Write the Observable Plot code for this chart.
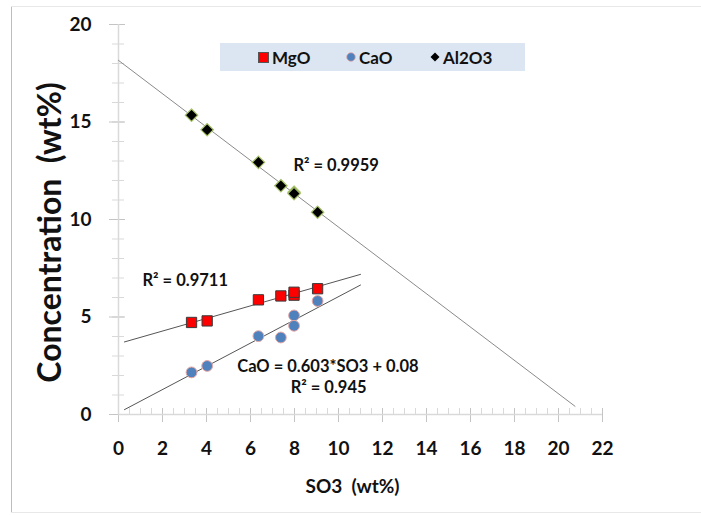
<!DOCTYPE html>
<html><head><meta charset="utf-8">
<script src="https://cdn.jsdelivr.net/npm/d3@7"></script>
<script src="https://cdn.jsdelivr.net/npm/@observablehq/plot@0.6"></script>
<style>
body{margin:0;background:#fff;}
#wrap{position:relative;width:701px;height:515px;overflow:hidden;font-family:Lato,"Open Sans",sans-serif;background:#fff;}
#frameL{position:absolute;left:11px;top:6px;width:0;height:507px;border-left:1px solid #bdbdbd;}
#frameT{position:absolute;left:11px;top:6px;width:690px;height:0;border-top:1px solid #e8e8e8;}
#frameB{position:absolute;left:11px;top:512px;width:690px;height:0;border-top:1px solid #e8e8e8;}
#legend{position:absolute;left:220px;top:43px;width:305px;height:28px;background:#dce6f2;}
.li{position:absolute;top:0;height:28px;display:flex;align-items:center;font-weight:700;font-size:17px;color:#111;}
.li svg{margin-right:3px;}
#chart{position:absolute;left:0;top:0;}
</style></head><body>
<div id="wrap">
  <div id="chart"></div>
  <div id="frameL"></div><div id="frameT"></div><div id="frameB"></div>
  <div id="legend"></div>
</div>
<script>
// ---- data ----
const so3   = [3.32, 4.03, 6.36, 7.38, 7.98, 7.98, 9.05];
const mgo   = [4.72, 4.80, 5.88, 6.08, 6.12, 6.27, 6.45];
const cao   = [2.16, 2.49, 4.02, 3.95, 5.08, 4.55, 5.82];
const al2o3 = [15.35, 14.60, 12.93, 11.73, 11.40, 11.33, 10.37];

const seriesNames = ["MgO", "CaO", "Al2O3"];
const xTicks = [0, 2, 4, 6, 8, 10, 12, 14, 16, 18, 20, 22];
const yTicks = [0, 5, 10, 15, 20];
const xMinorTicks = d3.range(0, 22.01, 0.5);
const yMinorTicks = d3.range(0, 20.01, 1);

// trend-line extents (x range drawn by the spreadsheet trendlines)
const trendRange = {MgO: [0.27, 11.0], CaO: [0.27, 11.0], Al2O3: [0, 20.75]};

const annotations = [
  {x: 7.95, y: 12.77, text: "R² = 0.9959", anchor: "start"},
  {x: 1.09, y: 6.87,  text: "R² = 0.9711", anchor: "start"},
  {x: 9.52, y: 2.46,  text: "CaO = 0.603*SO3 + 0.08", anchor: "middle"},
  {x: 9.55, y: 1.38,  text: "R² = 0.945", anchor: "middle"}
];

// ---- build tables ----
const valuesBy = {MgO: mgo, CaO: cao, Al2O3: al2o3};
const points = seriesNames.flatMap(s => so3.map((x, i) => ({series: s, x, y: valuesBy[s][i]})));

function fit(xs, ys) {
  const mx = d3.mean(xs), my = d3.mean(ys);
  let sxy = 0, sxx = 0;
  xs.forEach((x, i) => { sxy += (x - mx) * (ys[i] - my); sxx += (x - mx) ** 2; });
  const b = sxy / sxx;
  return {b, a: my - b * mx};
}
const trends = seriesNames.flatMap(s => {
  const {a, b} = fit(so3, valuesBy[s]);
  return trendRange[s].map(x => ({series: s, x, y: a + b * x}));
});

const axisGray = "#d9d9d9", tickGray = "#c4c4c4";

const chart = Plot.plot({
  width: 701, height: 515,
  marginLeft: 118, marginRight: 99, marginTop: 24, marginBottom: 101,
  style: {fontFamily: "Lato, 'Open Sans', sans-serif", background: "transparent", overflow: "visible"},
  x: {domain: [0, 22]},
  y: {domain: [0, 20]},
  marks: [
    // x axis ticks
    Plot.axisX(xMinorTicks, {tickSize: 6, dy: -6, tickFormat: () => "", stroke: axisGray, label: null}),
    Plot.axisX(xTicks, {tickSize: 14, dy: -6, tickFormat: () => "", stroke: tickGray, label: null}),
    Plot.axisX(xTicks, {tickSize: 0, tickPadding: 27, fontSize: 19, fontWeight: "bold", color: "#111", label: null}),
    // y axis ticks
    Plot.axisY(yMinorTicks, {tickSize: 12, dx: 6, tickFormat: () => "", stroke: axisGray, label: null}),
    Plot.axisY(yTicks, {tickSize: 16, dx: 7, tickFormat: () => "", stroke: tickGray, label: null}),
    Plot.axisY(yTicks, {tickSize: 0, tickPadding: 27, fontSize: 19, fontWeight: "bold", color: "#111", label: null}),
    Plot.ruleY([0], {stroke: axisGray, strokeWidth: 1.5}),
    Plot.ruleX([0], {stroke: axisGray, strokeWidth: 1.5}),
    // axis titles
    Plot.text(["Concentration  (wt%)"], {frameAnchor: "left", textAnchor: "middle", rotate: -90, dx: -68, dy: 13, fontSize: 32, fontWeight: "bold", fill: "#111"}),
    Plot.text(["SO3  (wt%)"], {frameAnchor: "bottom", textAnchor: "middle", dy: 78, dx: -8, fontSize: 19, fontWeight: "bold", fill: "#111"}),
    // trendlines
    Plot.line(trends, {x: "x", y: "y", z: "series", stroke: d => d.series === "Al2O3" ? "#8a8a8a" : "#555", strokeWidth: 1}),
    // points
    Plot.dot(points.filter(d => d.series === "Al2O3"), {x: "x", y: "y", symbol: "diamond2", r: 5.6, fill: "#000", stroke: "#a9c46a", strokeWidth: 1.2}),
    Plot.dot(points.filter(d => d.series === "MgO"), {x: "x", y: "y", symbol: "square", r: 5.8, fill: "#ff0000", stroke: "#3a3a3a", strokeWidth: 1}),
    Plot.dot(points.filter(d => d.series === "CaO"), {x: "x", y: "y", symbol: "circle", r: 5.4, fill: "#4f81bd", stroke: "#e6a6a4", strokeWidth: 1}),
    // annotations
    Plot.text(annotations.filter(d => d.anchor === "start"), {x: "x", y: "y", text: "text", textAnchor: "start", fontSize: 16.5, fontWeight: "bold", fill: "#111"}),
    Plot.text(annotations.filter(d => d.anchor === "middle"), {x: "x", y: "y", text: "text", textAnchor: "middle", fontSize: 16.5, fontWeight: "bold", fill: "#111"})
  ]
});
document.getElementById("chart").appendChild(chart);

// legend
const legendItems = [
  {name: seriesNames[0], left: 38, sym: '<svg width="11" height="11"><rect x="0.5" y="0.5" width="10" height="10" fill="#ff0000" stroke="#555" stroke-width="1"/></svg>'},
  {name: seriesNames[1], left: 126, sym: '<svg width="10" height="10"><circle cx="5" cy="5" r="4.3" fill="#4f81bd" stroke="#e6a6a4" stroke-width="0.8"/></svg>'},
  {name: seriesNames[2], left: 210, sym: '<svg width="10" height="10"><path d="M5 0.5 L9.5 5 L5 9.5 L0.5 5Z" fill="#000"/></svg>'}
];
const lg = document.getElementById("legend");
legendItems.forEach(it => {
  const el = document.createElement("div");
  el.className = "li";
  el.style.left = it.left + "px";
  el.innerHTML = it.sym + "<span>" + it.name + "</span>";
  lg.appendChild(el);
});
</script>
</body></html>
